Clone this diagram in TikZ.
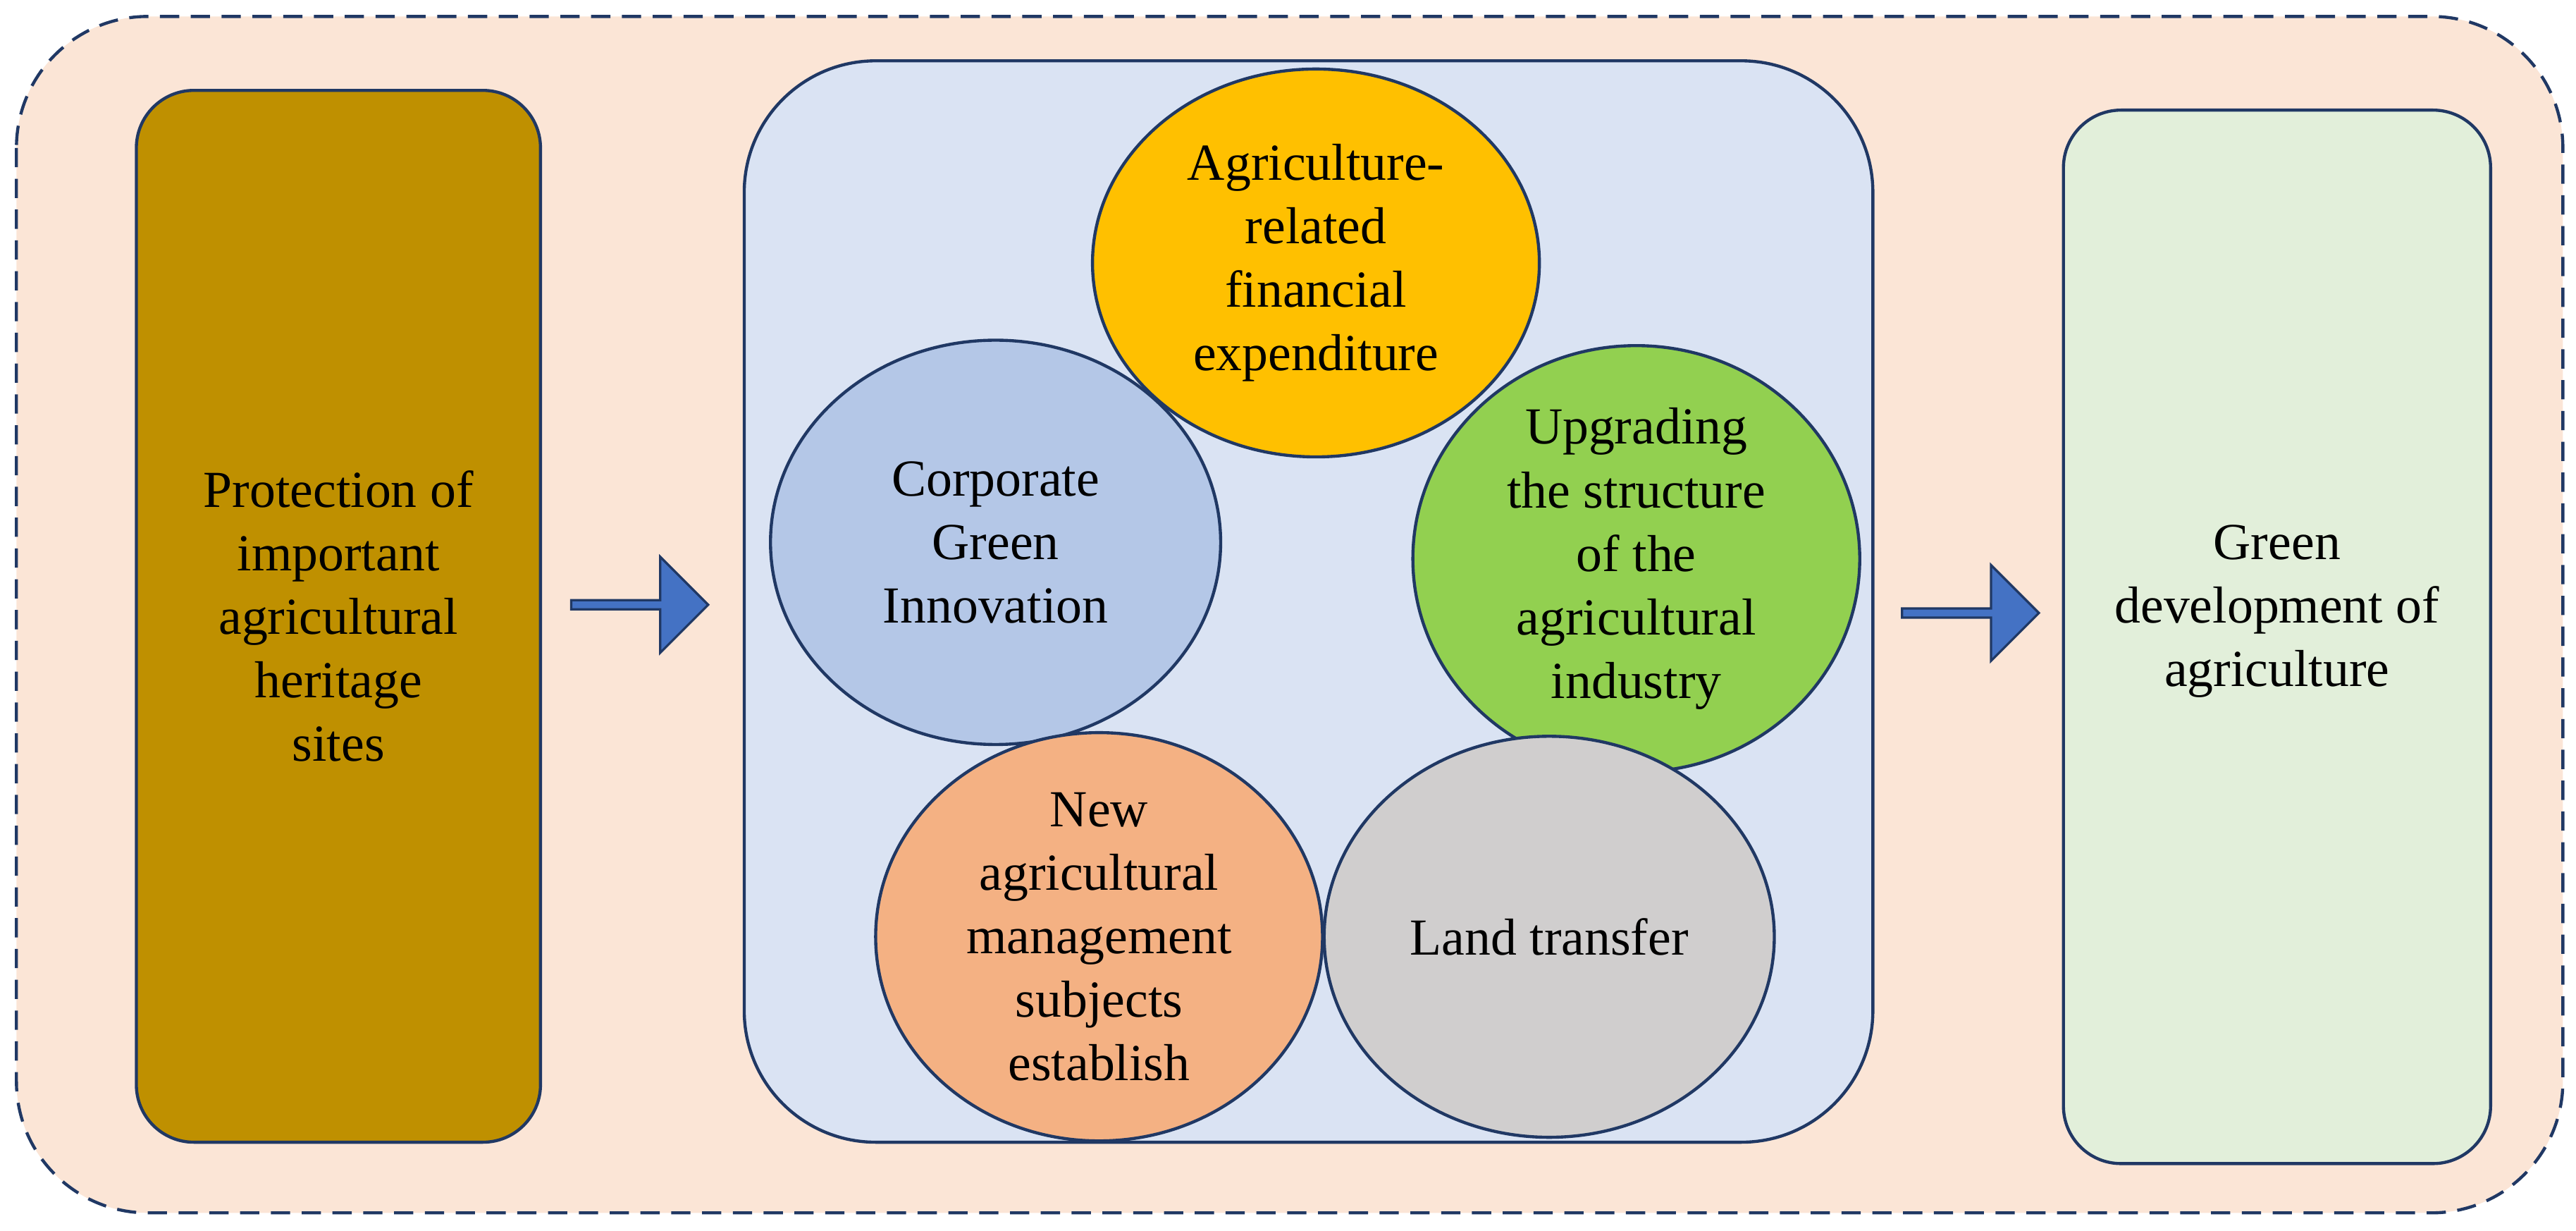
\documentclass[tikz,border=0pt]{standalone}
\usepackage{fontspec}
\setmainfont{Liberation Serif}
\usetikzlibrary{shapes.geometric,shapes.arrows}
\definecolor{bgpeach}{HTML}{FBE5D6}
\definecolor{gold}{HTML}{BF9000}
\definecolor{midblue}{HTML}{DAE3F3}
\definecolor{lgreen}{HTML}{E2EFDA}
\definecolor{edge}{HTML}{203864}
\definecolor{arrowblue}{HTML}{4472C4}
\definecolor{c1}{HTML}{FFC000}
\definecolor{c2}{HTML}{B4C7E7}
\definecolor{c3}{HTML}{92D050}
\definecolor{c4}{HTML}{F4B183}
\definecolor{c5}{HTML}{D0CECE}
\tikzset{
  txt/.style={font=\fontsize{27}{33}\selectfont, align=center},
  bubble/.style={ellipse, draw=edge, line width=1.6pt, inner sep=0pt, txt},
  panel/.style={draw=edge, line width=1.6pt},
  fatarrow/.style={single arrow, draw=edge, fill=arrowblue, line width=1.2pt, minimum width=1.75cm, single arrow head extend=0.2cm, minimum height=2.5cm, inner sep=0pt}
}
\begin{document}
\begin{tikzpicture}[x=0.03cm,y=-0.03cm]
\useasboundingbox (0,0) rectangle (1568,749);
\draw[panel, dashed, dash pattern=on 10pt off 6pt, fill=bgpeach, rounded corners=2.4cm] (10,10) rectangle (1560,738);
\draw[panel, fill=gold, rounded corners=1.05cm] (83,55) rectangle (329,695);
\node[txt] (left) at (206,375) {Protection of\\important\\agricultural\\heritage\\sites};
\draw[panel, fill=midblue, rounded corners=2.4cm] (453,37) rectangle (1140,695);
\draw[panel, fill=lgreen, rounded corners=1.05cm] (1256,67) rectangle (1516,708);
\node[txt] (right) at (1386,372) {Green\\development of\\agriculture};
\node[fatarrow] (a1) at (388,368) {};
\node[fatarrow] (a2) at (1198,373) {};
\node[bubble, fill=c1, minimum width=8.16cm, minimum height=7.08cm] (e1) at (801,160) {Agriculture-\\related\\financial\\expenditure};
\node[bubble, fill=c2, minimum width=8.22cm, minimum height=7.38cm] (e2) at (606,330) {Corporate\\Green\\Innovation};
\node[bubble, fill=c3, minimum width=8.16cm, minimum height=7.38cm] (e3) at (996,340) {Upgrading\\the structure\\of the\\agricultural\\industry};
\node[bubble, fill=c4, minimum width=8.16cm, minimum height=7.32cm] (e4) at (669,570) {New\\agricultural\\management\\subjects\\establish};
\node[bubble, fill=c5, minimum width=8.22cm, minimum height=7.32cm] (e5) at (943,570) {Land transfer};
\end{tikzpicture}
\end{document}
